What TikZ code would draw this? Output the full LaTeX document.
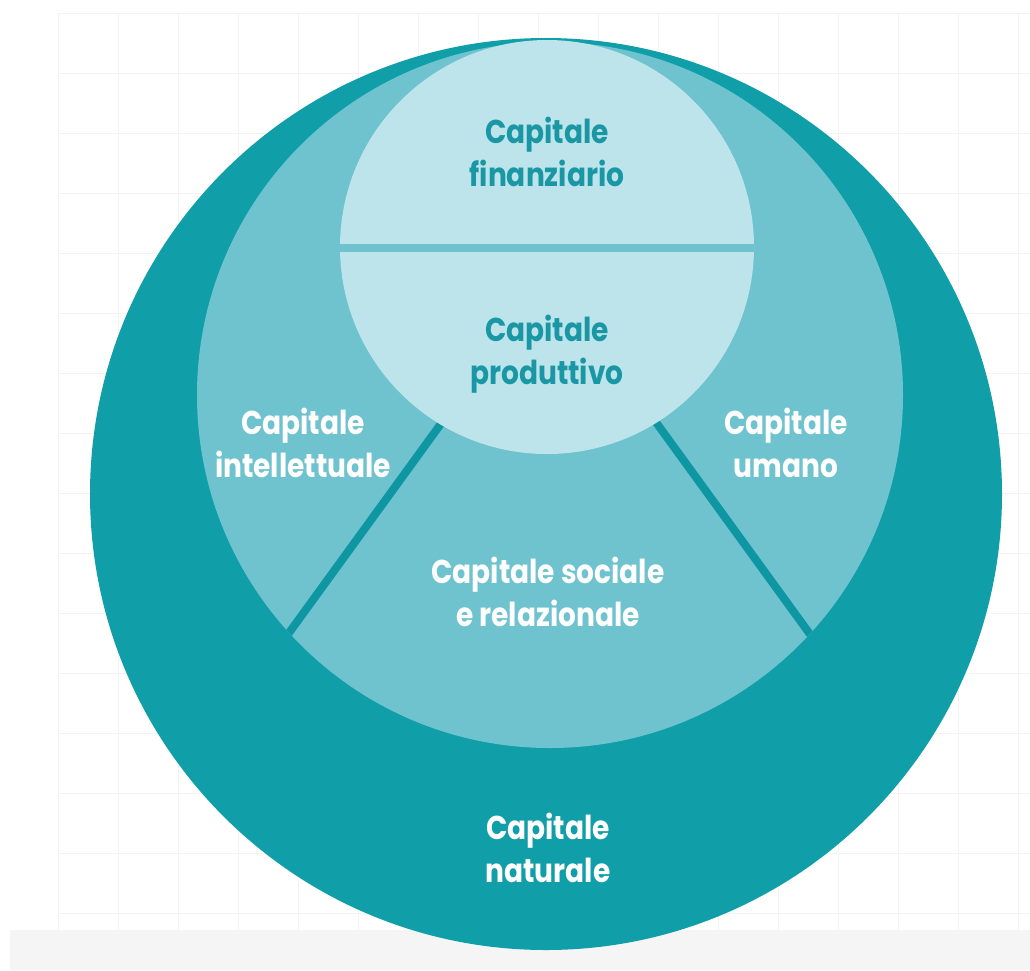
\documentclass[tikz,border=0pt]{standalone}
\usepackage{fontspec}
\newfontfamily\capfont[FakeStretch=0.85]{Poppins}
\definecolor{outerc}{HTML}{109EA9}
\definecolor{midc}{HTML}{6EC3CE}
\definecolor{innerc}{HTML}{BEE4EB}
\definecolor{linec}{HTML}{0E97A2}
\definecolor{intext}{HTML}{1A97A4}
\definecolor{gridc}{HTML}{F3F3F3}
\definecolor{stripc}{HTML}{F5F5F5}
\begin{document}
\begin{tikzpicture}[x=1pt,y=-1pt,
  lbl/.style={font=\capfont\bfseries\fontsize{33}{43}\selectfont, align=center, text=white, inner sep=0pt},
  inlbl/.style={lbl, text=intext},
  sep/.style={line width=8pt}]
\fill[white] (0,0) rectangle (1030,970);
\useasboundingbox (0,0) rectangle (1030,970);
% faint background grid
\foreach \x in {58,118,...,1030} \draw[gridc, line width=1pt] (\x,13) -- (\x,930);
\foreach \y in {13,73,...,930} \draw[gridc, line width=1pt] (58,\y) -- (1030,\y);
\fill[stripc] (10,930) rectangle (1030,970);
% circles
\fill[outerc] (546,494) circle[radius=456];
\fill[midc] (550,395) circle[radius=353];
\coordinate (hub) at (549,275);
\begin{scope}
  \clip (550,395) circle[radius=353];
  \draw[linec, sep] (hub) -- +(126:600);
  \draw[linec, sep] (hub) -- +(54:600);
\end{scope}
\fill[innerc] (547,247) circle[radius=207];
\begin{scope}
  \clip (547,247) circle[radius=207];
  \coordinate (sl) at (330,248);
  \coordinate (sr) at (770,248);
  \draw[midc, sep] (sl) -- (sr);
\end{scope}
% labels
\node[inlbl] (fin) at (547,152) {Capitale\\finanziario};
\node[inlbl] (prod) at (547,354) {Capitale\\produttivo};
\node[lbl] (intel) at (303,443) {Capitale\\intellettuale};
\node[lbl] (uman) at (786,443) {Capitale\\umano};
\node[lbl] (soc) at (548,592) {Capitale sociale\\e relazionale};
\node[lbl] (nat) at (548,848) {Capitale\\naturale};
\end{tikzpicture}
\end{document}
